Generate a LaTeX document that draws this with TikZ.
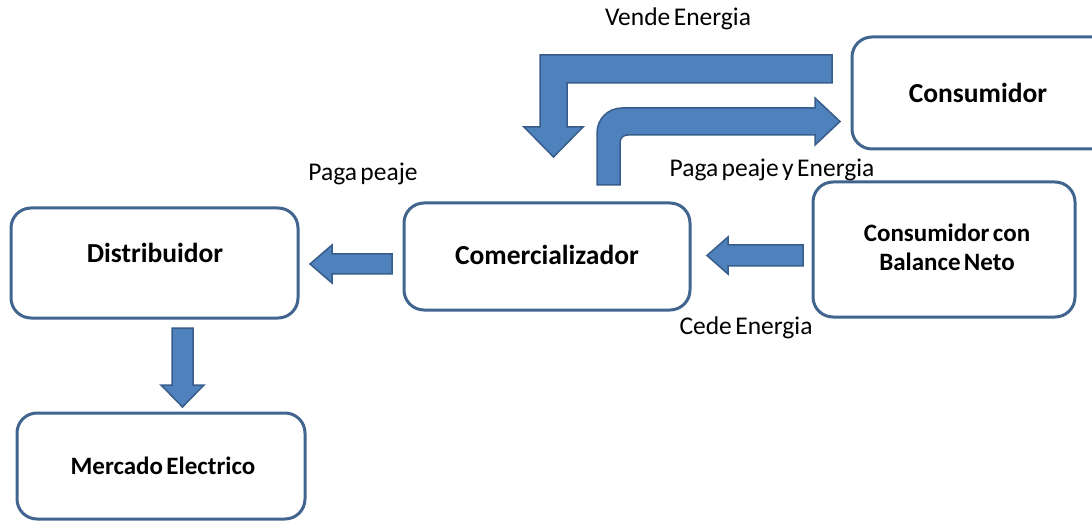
\documentclass[tikz,border=0pt]{standalone}
\usepackage{fontspec}
\setmainfont{Carlito}[WordSpace=0.6]
\definecolor{boxline}{HTML}{41658F}
\definecolor{arrowfill}{HTML}{4F81BD}
\definecolor{arrowline}{HTML}{385D8A}
\begin{document}
\begin{tikzpicture}[x=1pt,y=-1pt,
  entity/.style={draw=boxline, line width=3pt, rounded corners=20pt, fill=white,
    inner sep=0pt},
  title/.style={font=\fontsize{27.5}{31}\selectfont\bfseries, align=center, inner sep=0pt},
  smalltitle/.style={title, font=\fontsize{25}{29}\selectfont\bfseries},
  caption/.style={font=\fontsize{25.5}{30}\selectfont, inner sep=0pt},
  blockarrow/.style={fill=arrowfill, draw=arrowline, line width=1.5pt, line join=miter}
]
\useasboundingbox (0,0) rectangle (1092,521);
\clip (0,0) rectangle (1092,521);

% entities
\node[entity, minimum width=287pt, minimum height=110pt] (dist) at (154.5,263) {};
\node[entity, minimum width=288pt, minimum height=106pt] (merc) at (161,466) {};
\node[entity, minimum width=286pt, minimum height=107pt] (com) at (547,256.5) {};
\node[entity, minimum width=262pt, minimum height=112pt] (cons) at (983,93) {};
\node[entity, minimum width=262pt, minimum height=135pt] (bal) at (944,249.5) {};

\node[title] (distT) at (155,253) {Distribuidor};
\node[smalltitle] (mercT) at (163,466) {Mercado Electrico};
\node[title] (comT) at (547,255) {Comercializador};
\node[title] (consT) at (978,93) {Consumidor};
\node[smalltitle] (balT) at (947,247) {Consumidor con\\Balance Neto};

% flow arrows
% Distribuidor -> Mercado Electrico
\draw[blockarrow] (172,328) -- (193,328) -- (193,385) -- (204,385) -- (182.5,407)
  -- (161,385) -- (172,385) -- cycle;
% Comercializador -> Distribuidor
\draw[blockarrow] (310,264) -- (332,245) -- (332,254) -- (392,254) -- (392,274)
  -- (332,274) -- (332,283) -- cycle;
% Consumidor con Balance Neto -> Comercializador
\draw[blockarrow] (707,255.5) -- (728,237) -- (728,245) -- (803,245) -- (803,266)
  -- (728,266) -- (728,274) -- cycle;
% Consumidor -> Comercializador
\draw[blockarrow] (832,55) -- (540,55) -- (540,127) -- (524,127) -- (553.5,157)
  -- (583,127) -- (567,127) -- (567,83) -- (832,83) -- cycle;
% Comercializador -> Consumidor
\draw[blockarrow] (597,185) -- (597,133) .. controls (597,119) and (608,108) .. (622,108)
  -- (815,108) -- (815,98) -- (840,121.5) -- (815,145) -- (815,135) -- (628,135)
  .. controls (623,135) and (620,138) .. (620,143) -- (620,185) -- cycle;

% captions
\node[caption] (vende) at (678,19) {Vende Energia};
\node[caption] (peaje) at (363,174) {Paga peaje};
\node[caption] (peajeE) at (772,170) {Paga peaje y Energia};
\node[caption] (cede) at (746,328) {Cede Energia};
\end{tikzpicture}
\end{document}
